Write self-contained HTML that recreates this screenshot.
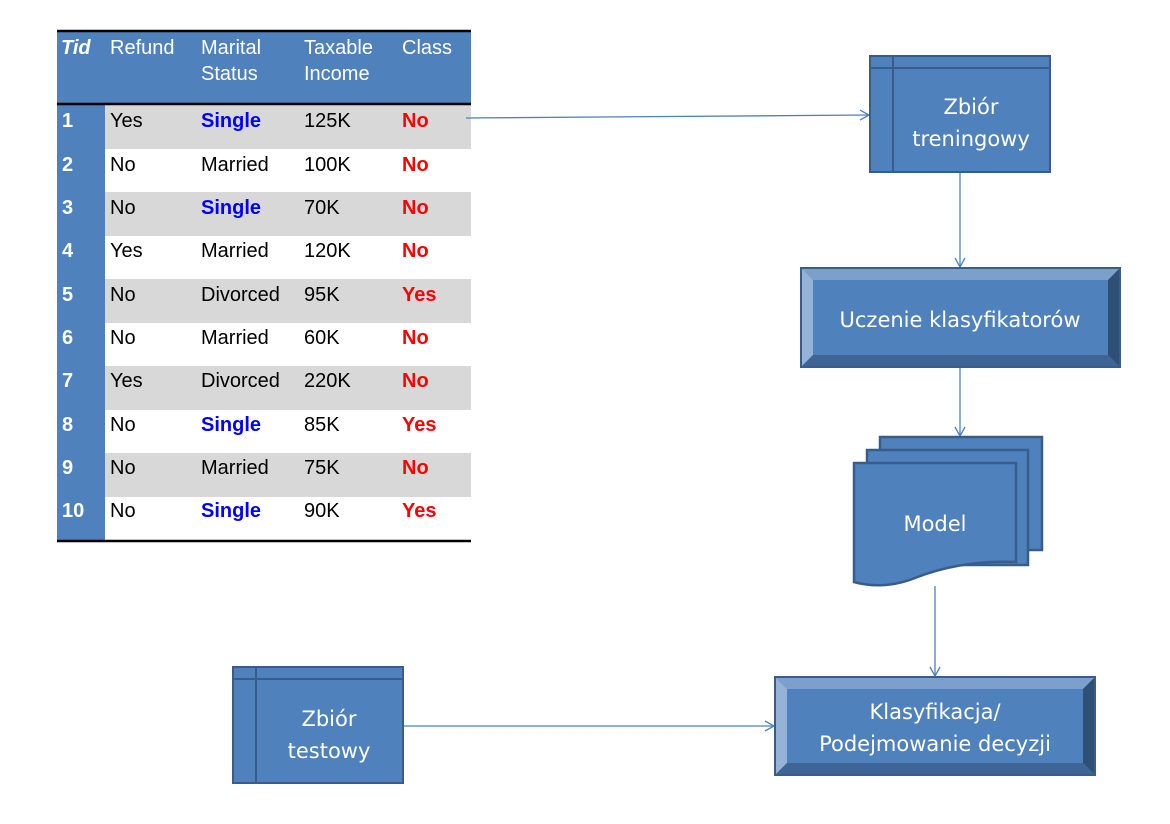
<!DOCTYPE html>
<html><head><meta charset="utf-8"><style>
html,body{margin:0;padding:0;background:#fff;}
svg{display:block;}
.t{font-family:"Liberation Sans",Arial,sans-serif;font-size:20px;}
.w{fill:#fff;}
.b{font-weight:bold;}
.c{font-family:"DejaVu Sans","Liberation Sans",sans-serif;font-size:21px;fill:#fff;}
</style></head><body>
<svg width="1170" height="824" viewBox="0 0 1170 824" xmlns="http://www.w3.org/2000/svg">
<defs><marker id="a" markerWidth="12" markerHeight="12" refX="10" refY="6" orient="auto" markerUnits="userSpaceOnUse"><path d="M1,1 L10,6 L1,11" fill="none" stroke="#4f81bd" stroke-width="1.3"/></marker></defs>
<!-- table -->
<rect x="57" y="31" width="414" height="73" fill="#4f81bd"/>
<rect x="57" y="104" width="48" height="437" fill="#4f81bd"/>
<rect x="105" y="104" width="366" height="45" fill="#d8d8d8"/>
<rect x="105" y="192" width="366" height="44" fill="#d8d8d8"/>
<rect x="105" y="279" width="366" height="44" fill="#d8d8d8"/>
<rect x="105" y="366" width="366" height="44" fill="#d8d8d8"/>
<rect x="105" y="453" width="366" height="44" fill="#d8d8d8"/>
<line x1="57" y1="31" x2="471" y2="31" stroke="#000" stroke-width="2.5"/>
<line x1="57" y1="104" x2="471" y2="104" stroke="#000" stroke-width="2.5"/>
<line x1="57" y1="541" x2="471" y2="541" stroke="#000" stroke-width="2.5"/>
<g class="t w">
<text x="61" y="54" class="b" font-style="italic">Tid</text>
<text x="110" y="54">Refund</text>
<text x="201" y="54">Marital</text><text x="201" y="80">Status</text>
<text x="304" y="54">Taxable</text><text x="304" y="80">Income</text>
<text x="402" y="54">Class</text>
</g>
<g class="t">
<g class="w b"><text x="62" y="127">1</text><text x="62" y="171">2</text><text x="62" y="214">3</text><text x="62" y="257">4</text><text x="62" y="301">5</text><text x="62" y="344">6</text><text x="62" y="387">7</text><text x="62" y="431">8</text><text x="62" y="474">9</text><text x="62" y="517">10</text></g>
<text x="110" y="127">Yes</text><text x="110" y="171">No</text><text x="110" y="214">No</text><text x="110" y="257">Yes</text><text x="110" y="301">No</text><text x="110" y="344">No</text><text x="110" y="387">Yes</text><text x="110" y="431">No</text><text x="110" y="474">No</text><text x="110" y="517">No</text>
<g class="b" fill="#0000ff"><text x="201" y="127">Single</text><text x="201" y="214">Single</text><text x="201" y="431">Single</text><text x="201" y="517">Single</text></g>
<text x="201" y="171">Married</text><text x="201" y="257">Married</text><text x="201" y="301">Divorced</text><text x="201" y="344">Married</text><text x="201" y="387">Divorced</text><text x="201" y="474">Married</text>
<text x="304" y="127">125K</text><text x="304" y="171">100K</text><text x="304" y="214">70K</text><text x="304" y="257">120K</text><text x="304" y="301">95K</text><text x="304" y="344">60K</text><text x="304" y="387">220K</text><text x="304" y="431">85K</text><text x="304" y="474">75K</text><text x="304" y="517">90K</text>
<g class="b" fill="#ff0000"><text x="402" y="127">No</text><text x="402" y="171">No</text><text x="402" y="214">No</text><text x="402" y="257">No</text><text x="402" y="301">Yes</text><text x="402" y="344">No</text><text x="402" y="387">No</text><text x="402" y="431">Yes</text><text x="402" y="474">No</text><text x="402" y="517">Yes</text></g>
</g>
<!-- arrows -->
<g stroke="#4f81bd" stroke-width="1.3" fill="none" marker-end="url(#a)">
<line x1="466" y1="118" x2="869" y2="115"/>
<line x1="960" y1="172" x2="960" y2="267"/>
<line x1="960" y1="367" x2="960" y2="436"/>
<line x1="935" y1="586" x2="935" y2="676"/>
<line x1="403" y1="726" x2="774" y2="726"/>
</g>
<!-- Zbiór treningowy -->
<rect x="870" y="56" width="180" height="116" fill="#4f81bd" stroke="#385d8a" stroke-width="2"/>
<line x1="870" y1="68" x2="1050" y2="68" stroke="#385d8a" stroke-width="2"/>
<line x1="893" y1="56" x2="893" y2="172" stroke="#385d8a" stroke-width="2"/>
<text class="c" x="971" y="114" text-anchor="middle">Zbiór</text>
<text class="c" x="971" y="146" text-anchor="middle">treningowy</text>
<!-- Uczenie -->
<g>
<rect x="801" y="268" width="319" height="99" fill="#4f81bd"/>
<polygon points="801,268 1120,268 1108,280 813,280" fill="#7ba0cd"/>
<polygon points="801,268 813,280 813,355 801,367" fill="#94b3d7"/>
<polygon points="1120,268 1108,280 1108,355 1120,367" fill="#2f4f75"/>
<polygon points="801,367 813,355 1108,355 1120,367" fill="#3d6596"/>
<rect x="801" y="268" width="319" height="99" fill="none" stroke="#385d8a" stroke-width="2"/>
<text class="c" x="960" y="327" text-anchor="middle">Uczenie klasyfikatorów</text>
</g>
<!-- Model -->
<g fill="#4f81bd" stroke="#385d8a" stroke-width="2.5">
<rect x="880" y="437" width="162" height="113"/>
<rect x="867" y="450" width="161" height="115"/>
<path d="M854,463 L1016,463 L1016,562 C975,560 940,568 915,578 C890,588 868,586 854,582 Z"/>
</g>
<text class="c" x="935" y="531" text-anchor="middle">Model</text>
<!-- Klasyfikacja -->
<g>
<rect x="775" y="677" width="320" height="98" fill="#4f81bd"/>
<polygon points="775,677 1095,677 1083,689 787,689" fill="#7ba0cd"/>
<polygon points="775,677 787,689 787,763 775,775" fill="#94b3d7"/>
<polygon points="1095,677 1083,689 1083,763 1095,775" fill="#2f4f75"/>
<polygon points="775,775 787,763 1083,763 1095,775" fill="#3d6596"/>
<rect x="775" y="677" width="320" height="98" fill="none" stroke="#385d8a" stroke-width="2"/>
<text class="c" x="935" y="719" text-anchor="middle">Klasyfikacja/</text>
<text class="c" x="935" y="751" text-anchor="middle">Podejmowanie decyzji</text>
</g>
<!-- Zbiór testowy -->
<rect x="233" y="667" width="170" height="116" fill="#4f81bd" stroke="#385d8a" stroke-width="2"/>
<line x1="233" y1="679" x2="403" y2="679" stroke="#385d8a" stroke-width="2"/>
<line x1="256" y1="667" x2="256" y2="783" stroke="#385d8a" stroke-width="2"/>
<text class="c" x="329" y="726" text-anchor="middle">Zbiór</text>
<text class="c" x="329" y="758" text-anchor="middle">testowy</text>
</svg>
</body></html>
